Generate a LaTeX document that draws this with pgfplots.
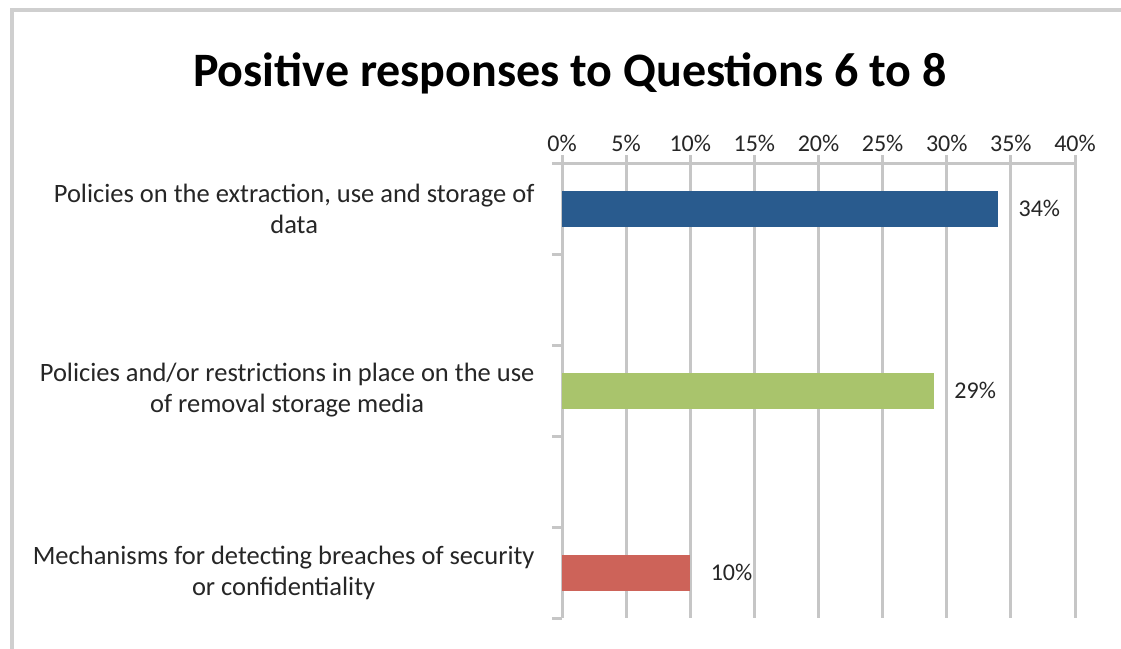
\documentclass[border=0pt]{standalone}
\usepackage{pgfplots}
\pgfplotsset{compat=1.18}
\usepackage{fontspec}
\setmainfont{Carlito}
\definecolor{barblue}{HTML}{295B8E}
\definecolor{bargreen}{HTML}{A9C46C}
\definecolor{barred}{HTML}{CD6359}
\definecolor{gridgray}{HTML}{C6C6C6}
\definecolor{bordergray}{HTML}{CFCFCF}
\definecolor{textgray}{HTML}{262626}
\begin{document}
\begin{tikzpicture}[x=1pt,y=1pt]
\useasboundingbox (0,0) rectangle (1121,648);
\fill[white] (0,0) rectangle (1121,648);
\begin{scope}
\clip (0,0) rectangle (1121,648);
\draw[line width=4pt, color=bordergray] (12,-5) -- (12,638) -- (1130,638);
\end{scope}
\node[font=\fontsize{48}{56}\selectfont\bfseries, text=black] at (570,575) {Positive responses to Questions 6 to 8};
\begin{axis}[
  at={(562pt,30pt)}, anchor=south west,
  scale only axis, width=513pt, height=455pt,
  xbar, bar width=36pt, bar shift=0pt,
  xmin=0, xmax=40, xtick={0,5,...,40},
  xticklabel={\pgfmathprintnumber{\tick}\%},
  /pgf/number format/assume math mode=true,
  ymin=-0.5, ymax=4.5, y dir=reverse,
  ytick={0,2,4},
  yticklabels={{Policies on the extraction, use and storage of\\data},{Policies and/or restrictions in place on the use\\of removal storage media},{Mechanisms for detecting breaches of security\\or confidentiality}},
  minor ytick={-0.5,0.5,1.5,2.5,3.5,4.5},
  axis x line=top, axis y line=left,
  axis line style={-, draw=gridgray, line width=3pt},
  xmajorgrids, grid style={draw=gridgray, line width=3pt},
  tick align=outside, major tick length=8pt, minor tick length=10pt,
  every major x tick/.append style={draw=gridgray, line width=3pt},
  every major y tick/.append style={draw=none},
  every minor y tick/.append style={draw=gridgray, line width=3pt},
  xticklabel style={font=\fontsize{24}{29}\selectfont, text=textgray},
  yticklabel style={font=\fontsize{26.5}{31}\selectfont, text=textgray, align=center, xshift=-16pt},
  nodes near coords={\pgfmathprintnumber{\pgfplotspointmeta}\%},
  nodes near coords style={font=\fontsize{24}{29}\selectfont, text=textgray, anchor=west, xshift=17pt},
]
\addplot[draw=none, fill=barblue] coordinates {(34,0)};
\addplot[draw=none, fill=bargreen] coordinates {(29,2)};
\addplot[draw=none, fill=barred] coordinates {(10,4)};
\end{axis}
\end{tikzpicture}
\end{document}
